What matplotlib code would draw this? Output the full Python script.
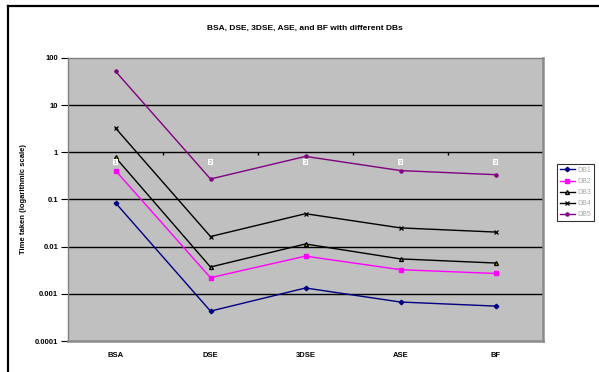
import numpy as np
import matplotlib
matplotlib.use("Agg")
import matplotlib.pyplot as plt
from matplotlib.lines import Line2D

# ==================================================
# DATA
# ==================================================

methods = ["BSA", "DSE", "3DSE", "ASE", "BF"]

db1 = [0.085, 0.00043, 0.00133, 0.00067, 0.00055]
db2 = [0.41, 0.0022, 0.0063, 0.00325, 0.0027]
db3 = [0.78, 0.0037, 0.0114, 0.0055, 0.0045]
db4 = [3.27, 0.0164, 0.050, 0.025, 0.0204]
db5 = [52.3, 0.272, 0.82, 0.41, 0.336]

series_names = ["DB1", "DB2", "DB3", "DB4", "DB5"]

y_ticks = [0.0001, 0.001, 0.01, 0.1, 1, 10, 100]
y_tick_labels = ["0.0001", "0.001", "0.01", "0.1", "1", "10", "100"]

# small label boxes sitting just under the y = 1 line
box_labels = ["1", "2", "3", "3", "3"]

# ==================================================
# FIGURE
# ==================================================

plt.rcParams["font.family"] = ["Liberation Sans", "DejaVu Sans"]

W, H = 599, 372

fig = plt.figure(
    figsize=(W / 100, H / 100),
    dpi=100
)

fig.patch.set_facecolor("white")

# outer chart frame (only top and left edges show)
fig.add_artist(Line2D([8 / W, 8 / W], [0, 1 - 6 / H],
                      color="black", lw=1.6, transform=fig.transFigure))
fig.add_artist(Line2D([8 / W, 1], [1 - 6 / H, 1 - 6 / H],
                      color="black", lw=1.6, transform=fig.transFigure))

x0, x1 = 68, 543
y0, y1 = 58, 341

ax = fig.add_axes([
    x0 / W,
    1 - y1 / H,
    (x1 - x0) / W,
    (y1 - y0) / H
])

ax.set_facecolor("#C0C0C0")

x = np.arange(len(methods))

styles = [
    dict(color="#000080", marker="D", ms=2.3, mfc="#000080"),
    dict(color="#FF00FF", marker="s", ms=3.2, mfc="#FF00FF"),
    dict(color="#000000", marker="^", ms=2.8, mfc="#C8C800"),
    dict(color="#000000", marker="x", ms=2.8, mew=0.9),
    dict(color="#800080", marker="o", ms=2.2, mfc="#800080"),
]

all_series = [db1, db2, db3, db4, db5]

for vals, name, st in zip(all_series, series_names, styles):

    ax.plot(
        x,
        vals,
        lw=1.0,
        label=name,
        zorder=4,
        **st
    )

ax.set_yscale("log")
ax.set_ylim(0.0001, 100)
ax.set_xlim(-0.5, len(methods) - 0.5)

# horizontal gridlines
for t in y_ticks[1:-1]:
    ax.axhline(t, color="black", lw=1.0, zorder=2)

# category axis crosses at 1, with its ticks between categories
ax.plot(
    x[:-1] + 0.5,
    [1] * (len(methods) - 1),
    linestyle="none",
    marker=3,
    ms=2.5,
    color="black",
    zorder=3
)

for i, lab in enumerate(box_labels):

    ax.text(
        i,
        0.62,
        lab,
        fontsize=4,
        color="#909090",
        ha="center",
        va="center",
        zorder=5,
        bbox=dict(boxstyle="square,pad=0.15", fc="white", ec="none")
    )

ax.set_yticks(y_ticks)
ax.set_yticklabels(y_tick_labels, fontsize=5.5, fontweight="bold")
ax.yaxis.set_minor_locator(matplotlib.ticker.NullLocator())

ax.set_xticks(x)
ax.set_xticklabels(methods, fontsize=5.5, fontweight="bold")

ax.tick_params(axis="x", length=0, pad=8)
ax.tick_params(axis="y", length=5, width=0.8, pad=2, color="black")

for side in ["left", "top"]:
    ax.spines[side].set_color("#808080")
    ax.spines[side].set_linewidth(1.0)

for side in ["right", "bottom"]:
    ax.spines[side].set_color("#8A8A8A")
    ax.spines[side].set_linewidth(1.8)

ax.set_ylabel(
    "Time taken (logarithmic scale)",
    fontsize=5.5,
    fontweight="bold",
    labelpad=6
)

fig.text(
    305 / W,
    1 - 28 / H,
    "BSA, DSE, 3DSE, ASE, and BF with different DBs",
    fontsize=6,
    fontweight="bold",
    ha="center",
    va="center"
)

leg = fig.legend(
    loc="upper left",
    bbox_to_anchor=(557 / W, 1 - 164 / H),
    fontsize=5,
    frameon=True,
    fancybox=False,
    edgecolor="black",
    handlelength=2.2,
    handletextpad=0.3,
    labelspacing=0.6,
    borderpad=0.4,
    borderaxespad=0
)

leg.get_frame().set_linewidth(0.8)

for txt in leg.get_texts():
    txt.set_color("#A8A8A8")

plt.savefig("out.png", dpi=100)
